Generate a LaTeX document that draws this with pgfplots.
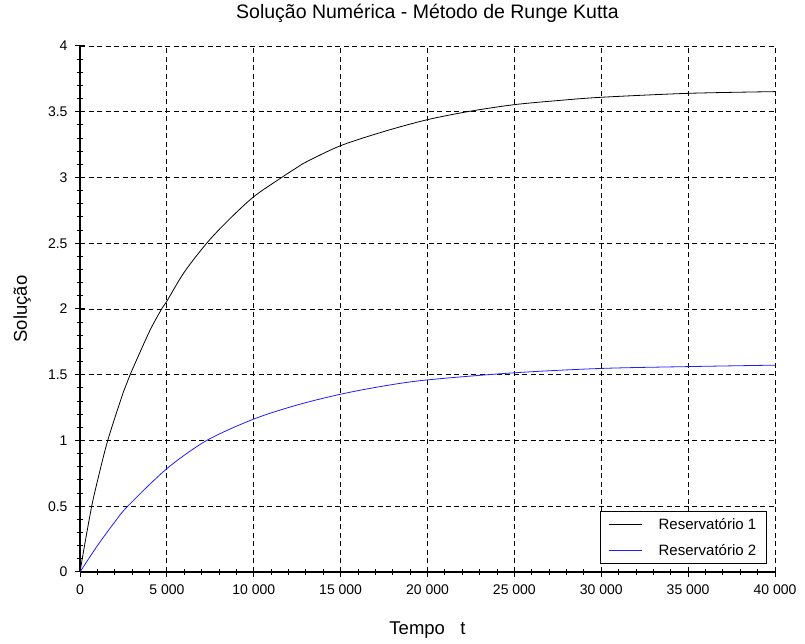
\documentclass[border=0pt]{standalone}
\usepackage{fontspec}
\setmainfont{Liberation Sans}
\usepackage{pgfplots}
\pgfplotsset{compat=1.18}
\begin{document}
\begin{tikzpicture}
\begin{axis}[
  at={(0,0)}, anchor=south west,
  scale only axis,
  width=695pt, height=526pt,
  xmin=0, xmax=40000, ymin=0, ymax=4,
  xtick={0,5000,...,40000},
  ytick={0,0.5,...,4},
  minor x tick num=4, minor y tick num=4,
  scaled x ticks=false,
  /pgf/number format/assume math mode=true,
  xticklabel style={/pgf/number format/1000 sep={\ }, /pgf/number format/fixed},
  yticklabel style={/pgf/number format/fixed},
  every x tick label/.append style={yshift=-4pt},
  every y tick label/.append style={xshift=-4pt},
  tick label style={font=\fontsize{14}{16}\selectfont, text=black},
  axis lines=left,
  axis line style={-, black, line width=1.2pt},
  tick align=center,
  major tick length=10pt,
  minor tick length=6pt,
  tick style={black, line width=1pt},
  grid=major,
  major grid style={black, line width=0.8pt, dash pattern=on 5pt off 3.5pt},
  title={Solução Numérica - Método de Runge Kutta},
  title style={at={(axis description cs:0.5,1.0418)}, anchor=base, font=\fontsize{19.5}{22}\selectfont},
  xlabel={Tempo\ \ \ t},
  xlabel style={at={(axis description cs:0.5,-0.1179)}, anchor=base, font=\fontsize{18.5}{22}\selectfont},
  ylabel={Solução},
  ylabel style={at={(axis description cs:-0.0763,0.5)}, anchor=base, rotate=0, font=\fontsize{18.5}{22}\selectfont},
  legend style={at={(axis description cs:0.9885,0.0152)}, anchor=south east,
    draw=black, line width=0.6pt, font=\fontsize{15}{17}\selectfont,
    inner xsep=8.5pt, inner ysep=5pt, row sep=9pt, column sep=14pt, fill=white},
  legend cell align=left,
  legend image code/.code={\draw[#1, line width=1pt] (0pt,0pt) -- (33pt,0pt);},
]
\addplot[black, line width=0.8pt, smooth] coordinates {
(0,0) (300,0.23) (673,0.5) (1000,0.69) (1596,1.0) (2500,1.37) (2884,1.5)
(4000,1.83) (4700,2.0) (5000,2.06) (6000,2.28) (7290,2.5) (8500,2.67)
(10000,2.854) (11605,3.0) (12500,3.077) (13045,3.12) (15000,3.242) (17500,3.35)
(20000,3.44) (22500,3.505) (25000,3.554) (27500,3.585) (30000,3.61)
(35000,3.64) (40000,3.653)};
\addlegendentry{Reservatório 1}
\addplot[color={rgb,255:red,30;green,30;blue,255}, line width=0.8pt, smooth] coordinates {
(0,0) (1000,0.2) (2000,0.38) (2743,0.5) (5000,0.786) (7290,1.0) (10000,1.163)
(12500,1.27) (15000,1.352) (17500,1.415) (20000,1.461) (25000,1.515)
(30000,1.548) (35000,1.562) (40000,1.573)};
\addlegendentry{Reservatório 2}
\end{axis}
\path (-80pt,-72pt) rectangle (725pt,572pt);
\end{tikzpicture}
\end{document}
